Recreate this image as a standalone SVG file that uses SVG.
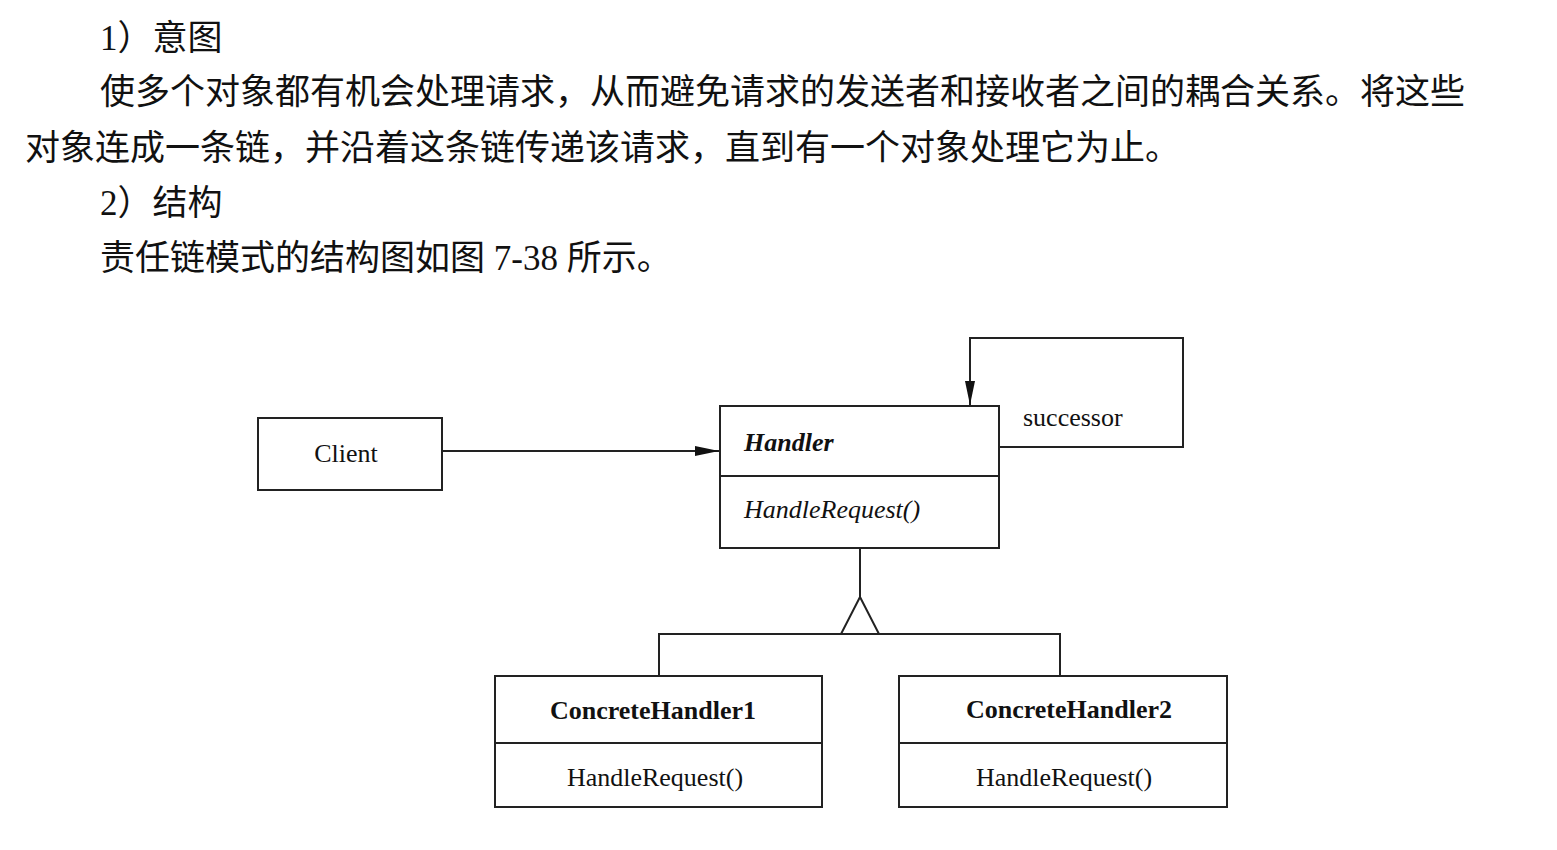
<svg xmlns="http://www.w3.org/2000/svg" width="1557" height="850" viewBox="0 0 1557 850">
<style>
.p{font-family:"Liberation Serif","Noto Sans CJK SC",serif;font-size:35px;fill:#111}
.t{font-family:"Liberation Serif",serif;font-size:26px;fill:#111}
.b{font-weight:bold}
.i{font-style:italic}
.box{fill:#fff;stroke:#222;stroke-width:2}
.ln{fill:none;stroke:#222;stroke-width:2}
</style>
<defs>
<marker id="arr" markerUnits="userSpaceOnUse" markerWidth="26" markerHeight="12" refX="24" refY="5" orient="auto">
<path d="M0,0 L24,5 L0,10 Z" fill="#111"/>
</marker>
</defs>
<rect width="1557" height="850" fill="#fff"/>
<g id="text">
<text class="p" x="100" y="50">1）意图</text>
<text class="p" x="100" y="104">使多个对象都有机会处理请求，从而避免请求的发送者和接收者之间的耦合关系。将这些</text>
<text class="p" x="25" y="160">对象连成一条链，并沿着这条链传递该请求，直到有一个对象处理它为止。</text>
<text class="p" x="100" y="215">2）结构</text>
<text class="p" x="100" y="270">责任链模式的结构图如图 7-38 所示。</text>
</g>
<g id="connectors">
<line class="ln" x1="442" y1="451" x2="719" y2="451" marker-end="url(#arr)"/>
<polyline class="ln" points="999,447 1183,447 1183,338 970,338 970,405" marker-end="url(#arr)"/>
<line class="ln" x1="860" y1="548" x2="860" y2="597"/>
<polygon class="ln" points="860,597 841,634 879,634"/>
<polyline class="ln" points="659,676 659,634 1060,634 1060,676"/>
<text class="t" x="1023" y="426">successor</text>
</g>
<g id="client">
<rect class="box" x="258" y="418" width="184" height="72"/>
<text class="t" x="346" y="462" text-anchor="middle">Client</text>
</g>
<g id="handler">
<rect class="box" x="720" y="406" width="279" height="142"/>
<line class="ln" x1="720" y1="476" x2="999" y2="476"/>
<text class="t b i" x="744" y="451">Handler</text>
<text class="t i" x="744" y="518">HandleRequest()</text>
</g>
<g id="concrete1">
<rect class="box" x="495" y="676" width="327" height="131"/>
<line class="ln" x1="495" y1="743" x2="822" y2="743"/>
<text class="t b" x="653" y="719" text-anchor="middle">ConcreteHandler1</text>
<text class="t" x="655" y="786" text-anchor="middle">HandleRequest()</text>
</g>
<g id="concrete2">
<rect class="box" x="899" y="676" width="328" height="131"/>
<line class="ln" x1="899" y1="743" x2="1227" y2="743"/>
<text class="t b" x="1069" y="718" text-anchor="middle">ConcreteHandler2</text>
<text class="t" x="1064" y="786" text-anchor="middle">HandleRequest()</text>
</g>
</svg>
